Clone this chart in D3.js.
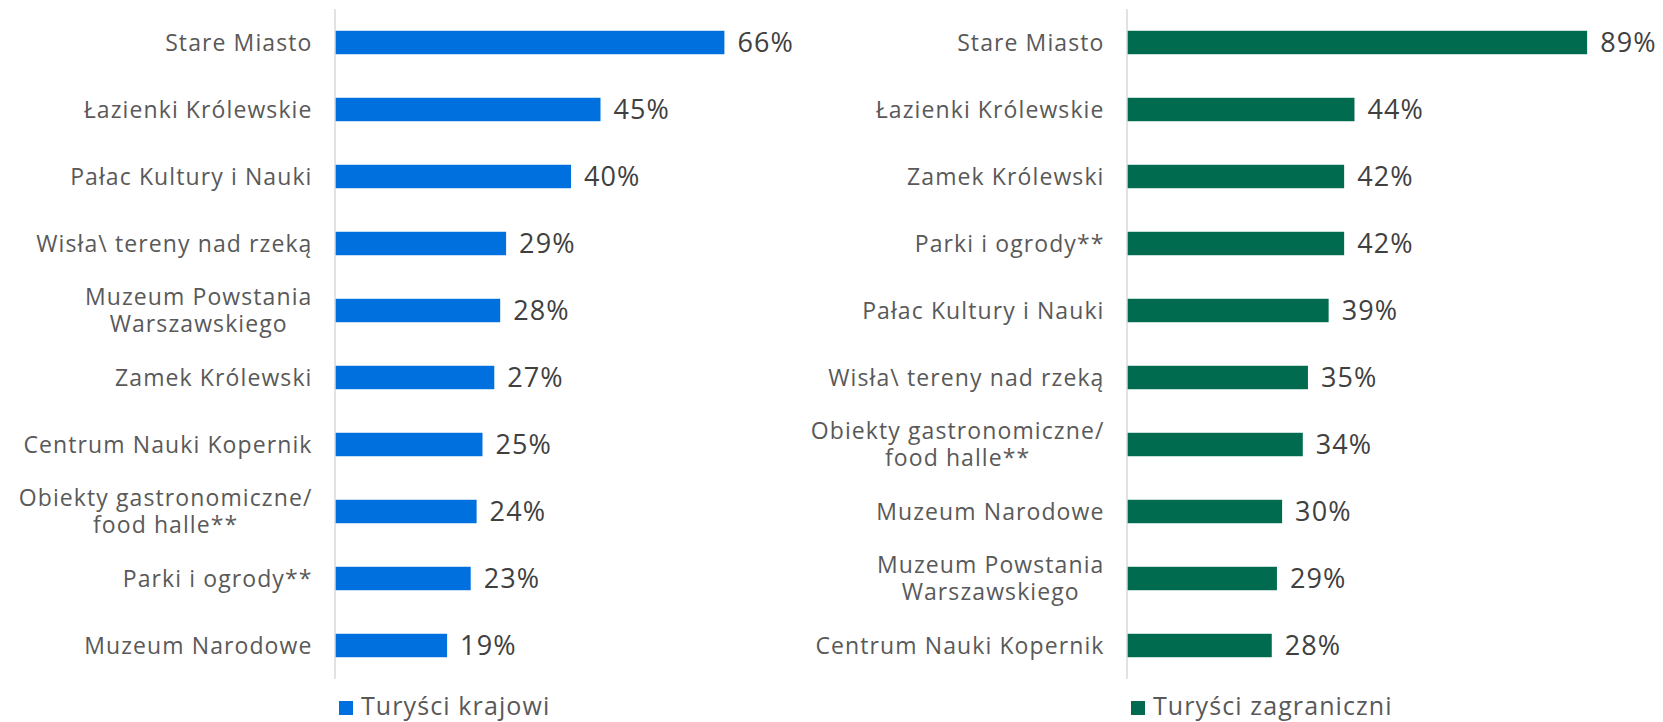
<!DOCTYPE html>
<html>
<head>
<meta charset="utf-8">
<script src="https://cdn.jsdelivr.net/npm/d3@7"></script>
<style>
  body { margin: 0; background: #fff; }
  text { font-family: "Open Sans", sans-serif; letter-spacing: 1.1px; }
</style>
</head>
<body>
<svg id="chart" width="1663" height="722"></svg>
<script>
// domestic tourists (left panel)
const domesticLabels = [
  ["Stare Miasto"],
  ["Łazienki Królewskie"],
  ["Pałac Kultury i Nauki"],
  ["Wisła\\ tereny nad rzeką"],
  ["Muzeum Powstania", "Warszawskiego"],
  ["Zamek Królewski"],
  ["Centrum Nauki Kopernik"],
  ["Obiekty gastronomiczne/", "food halle**"],
  ["Parki i ogrody**"],
  ["Muzeum Narodowe"]
];
const domesticValues = [66, 45, 40, 29, 28, 27, 25, 24, 23, 19];

// foreign tourists (right panel)
const foreignLabels = [
  ["Stare Miasto"],
  ["Łazienki Królewskie"],
  ["Zamek Królewski"],
  ["Parki i ogrody**"],
  ["Pałac Kultury i Nauki"],
  ["Wisła\\ tereny nad rzeką"],
  ["Obiekty gastronomiczne/", "food halle**"],
  ["Muzeum Narodowe"],
  ["Muzeum Powstania", "Warszawskiego"],
  ["Centrum Nauki Kopernik"]
];
const foreignValues = [89, 44, 42, 42, 39, 35, 34, 30, 29, 28];

const seriesNames = ["Turyści krajowi", "Turyści zagraniczni"];
const seriesColors = ["#0070df", "#006b4f"];

const svg = d3.select("#chart");

const plotTop = 9, plotBottom = 679;

function drawPanel(labels, values, name, color, x0, x100) {
  const g = svg.append("g");

  const x = d3.scaleLinear()
    .domain([0, 100])
    .range([x0, x100]);

  const y = d3.scaleBand()
    .domain(d3.range(values.length))
    .range([plotTop, plotBottom]);

  const barH = y.bandwidth() * 0.35;

  // bars
  g.selectAll(".bar")
    .data(values)
    .enter()
    .append("rect")
    .attr("class", "bar")
    .attr("x", x(0))
    .attr("y", (d, i) => y(i) + (y.bandwidth() - barH) / 2)
    .attr("width", d => x(d) - x(0))
    .attr("height", barH)
    .attr("fill", color);

  // vertical axis line
  g.append("line")
    .attr("x1", x(0))
    .attr("x2", x(0))
    .attr("y1", plotTop)
    .attr("y2", plotBottom)
    .attr("stroke", "#d9d9d9")
    .attr("stroke-width", 1.5);

  // value labels
  g.selectAll(".val")
    .data(values)
    .enter()
    .append("text")
    .attr("class", "val")
    .attr("x", d => x(d) + 13)
    .attr("y", (d, i) => y(i) + y.bandwidth() / 2)
    .attr("dy", "0.36em")
    .attr("font-size", 27)
    .attr("fill", "#404040")
    .text(d => d + "%");

  // category labels, multi-line ones centred on each other
  const right = x(0) - 22.5;
  labels.forEach((d, i) => {
    const cy = y(i) + y.bandwidth() / 2;
    if (d.length === 1) {
      g.append("text")
        .attr("class", "cat")
        .attr("font-size", 23)
        .attr("fill", "#595959")
        .attr("x", right)
        .attr("y", cy)
        .attr("dy", "0.36em")
        .attr("text-anchor", "end")
        .text(d[0]);
    } else {
      const first = g.append("text")
        .attr("font-size", 23)
        .text(d[0]);
      const w = first.node().getComputedTextLength();
      first.remove();
      const mid = right - w / 2;
      d.forEach((line, k) => {
        g.append("text")
          .attr("class", "cat")
          .attr("font-size", 23)
          .attr("fill", "#595959")
          .attr("x", mid)
          .attr("y", cy + (k - (d.length - 1) / 2) * 27)
          .attr("dy", "0.36em")
          .attr("text-anchor", "middle")
          .text(line);
      });
    }
  });

  // legend
  g.append("rect")
    .attr("x", x(0) + 4)
    .attr("y", 701)
    .attr("width", 14)
    .attr("height", 14)
    .attr("fill", color);

  g.append("text")
    .attr("x", x(0) + 26)
    .attr("y", 715)
    .attr("font-size", 25)
    .attr("fill", "#595959")
    .text(name);
}

drawPanel(domesticLabels, domesticValues, seriesNames[0], seriesColors[0], 335, 925);
drawPanel(foreignLabels, foreignValues, seriesNames[1], seriesColors[1], 1127, 1644);
</script>
</body>
</html>
